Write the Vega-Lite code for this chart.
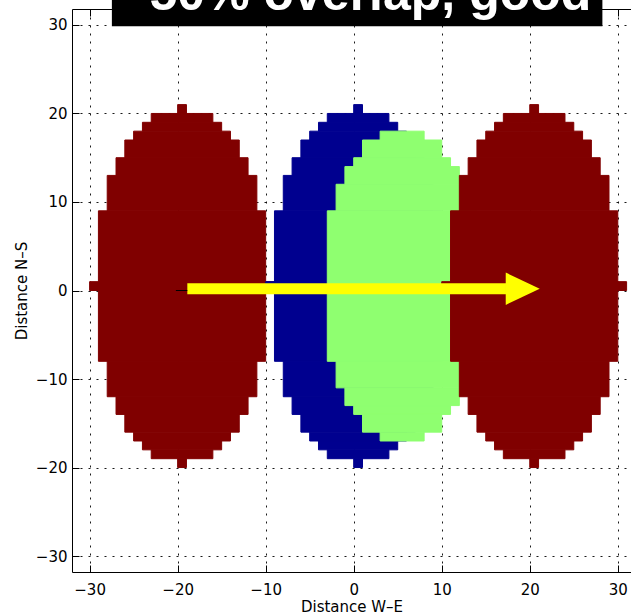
{
  "$schema": "https://vega.github.io/schema/vega-lite/v6.json",
  "autosize": "none",
  "padding": {"left": 72, "top": 9, "right": 0, "bottom": 44},
  "width": 559,
  "height": 563,
  "background": "white",
  "datasets": {
    "cells": [
      {"shape":"redL","x":-20,"x2":-19,"y":20,"y2":21},
      {"shape":"redL","x":-23,"x2":-16,"y":19,"y2":20},
      {"shape":"redL","x":-24,"x2":-15,"y":18,"y2":19},
      {"shape":"redL","x":-25,"x2":-14,"y":17,"y2":18},
      {"shape":"redL","x":-26,"x2":-13,"y":15,"y2":17},
      {"shape":"redL","x":-27,"x2":-12,"y":13,"y2":15},
      {"shape":"redL","x":-28,"x2":-11,"y":9,"y2":13},
      {"shape":"redL","x":-29,"x2":-10,"y":1,"y2":9},
      {"shape":"redL","x":-30,"x2":-9,"y":0,"y2":1},
      {"shape":"redL","x":-29,"x2":-10,"y":-8,"y2":0},
      {"shape":"redL","x":-28,"x2":-11,"y":-12,"y2":-8},
      {"shape":"redL","x":-27,"x2":-12,"y":-14,"y2":-12},
      {"shape":"redL","x":-26,"x2":-13,"y":-16,"y2":-14},
      {"shape":"redL","x":-25,"x2":-14,"y":-17,"y2":-16},
      {"shape":"redL","x":-24,"x2":-15,"y":-18,"y2":-17},
      {"shape":"redL","x":-23,"x2":-16,"y":-19,"y2":-18},
      {"shape":"redL","x":-20,"x2":-19,"y":-20,"y2":-19},
      {"shape":"blue","x":0,"x2":1,"y":20,"y2":21},
      {"shape":"blue","x":-3,"x2":4,"y":19,"y2":20},
      {"shape":"blue","x":-4,"x2":5,"y":18,"y2":19},
      {"shape":"blue","x":-5,"x2":6,"y":17,"y2":18},
      {"shape":"blue","x":-6,"x2":7,"y":15,"y2":17},
      {"shape":"blue","x":-7,"x2":8,"y":13,"y2":15},
      {"shape":"blue","x":-8,"x2":9,"y":9,"y2":13},
      {"shape":"blue","x":-9,"x2":10,"y":1,"y2":9},
      {"shape":"blue","x":-10,"x2":11,"y":0,"y2":1},
      {"shape":"blue","x":-9,"x2":10,"y":-8,"y2":0},
      {"shape":"blue","x":-8,"x2":9,"y":-12,"y2":-8},
      {"shape":"blue","x":-7,"x2":8,"y":-14,"y2":-12},
      {"shape":"blue","x":-6,"x2":7,"y":-16,"y2":-14},
      {"shape":"blue","x":-5,"x2":6,"y":-17,"y2":-16},
      {"shape":"blue","x":-4,"x2":5,"y":-18,"y2":-17},
      {"shape":"blue","x":-3,"x2":4,"y":-19,"y2":-18},
      {"shape":"blue","x":0,"x2":1,"y":-20,"y2":-19},
      {"shape":"green","x":3,"x2":8,"y":17,"y2":18},
      {"shape":"green","x":1,"x2":10,"y":15,"y2":17},
      {"shape":"green","x":0,"x2":11,"y":14,"y2":15},
      {"shape":"green","x":-1,"x2":12,"y":12,"y2":14},
      {"shape":"green","x":-2,"x2":13,"y":9,"y2":12},
      {"shape":"green","x":-3,"x2":14,"y":-8,"y2":9},
      {"shape":"green","x":-2,"x2":13,"y":-11,"y2":-8},
      {"shape":"green","x":-1,"x2":12,"y":-13,"y2":-11},
      {"shape":"green","x":0,"x2":11,"y":-14,"y2":-13},
      {"shape":"green","x":1,"x2":10,"y":-16,"y2":-14},
      {"shape":"green","x":3,"x2":8,"y":-17,"y2":-16},
      {"shape":"redR","x":20,"x2":21,"y":20,"y2":21},
      {"shape":"redR","x":17,"x2":24,"y":19,"y2":20},
      {"shape":"redR","x":16,"x2":25,"y":18,"y2":19},
      {"shape":"redR","x":15,"x2":26,"y":17,"y2":18},
      {"shape":"redR","x":14,"x2":27,"y":15,"y2":17},
      {"shape":"redR","x":13,"x2":28,"y":13,"y2":15},
      {"shape":"redR","x":12,"x2":29,"y":9,"y2":13},
      {"shape":"redR","x":11,"x2":30,"y":1,"y2":9},
      {"shape":"redR","x":10,"x2":31,"y":0,"y2":1},
      {"shape":"redR","x":11,"x2":30,"y":-8,"y2":0},
      {"shape":"redR","x":12,"x2":29,"y":-12,"y2":-8},
      {"shape":"redR","x":13,"x2":28,"y":-14,"y2":-12},
      {"shape":"redR","x":14,"x2":27,"y":-16,"y2":-14},
      {"shape":"redR","x":15,"x2":26,"y":-17,"y2":-16},
      {"shape":"redR","x":16,"x2":25,"y":-18,"y2":-17},
      {"shape":"redR","x":17,"x2":24,"y":-19,"y2":-18},
      {"shape":"redR","x":20,"x2":21,"y":-20,"y2":-19}
    ],
    "arrow": [{"x": -18.9, "x2": 17.3, "y": 0.2, "head": 19.2}],
    "base": [{"x": -20.2, "x2": -18.9, "y": 0}],
    "banner": [{"x": -27.47, "x2": 28.25, "y": 29.86, "y2": 34, "tx": 1.9, "ty": 31.74, "label": "50% overlap, good"}]
  },
  "layer": [
    {
      "data": {"name": "cells"},
      "mark": {"type": "rect", "strokeWidth": 1},
      "encoding": {
        "x": {"field": "x", "type": "quantitative",
              "scale": {"domain": [-32, 31.5], "nice": false, "zero": false},
              "axis": {"orient": "bottom", "values": [-30,-20,-10,0,10,20,30], "grid": true, "title": "Distance W–E", "labelPadding": 17, "titlePadding": 2}},
        "x2": {"field": "x2"},
        "y": {"field": "y", "type": "quantitative",
              "scale": {"domain": [-31.8, 31.8], "nice": false, "zero": false},
              "axis": {"orient": "left", "values": [-30,-20,-10,0,10,20,30], "grid": true, "title": "Distance N–S", "labelPadding": 12, "titlePadding": 6}},
        "y2": {"field": "y2"},
        "color": {"field": "shape", "type": "nominal",
                  "scale": {"domain": ["redL","blue","green","redR"], "range": ["#800000","#00008F","#8FFF70","#800000"]},
                  "legend": null},
        "stroke": {"field": "shape", "type": "nominal",
                  "scale": {"domain": ["redL","blue","green","redR"], "range": ["#800000","#00008F","#8FFF70","#800000"]},
                  "legend": null}
      }
    },
    {
      "data": {"name": "arrow"},
      "mark": {"type": "rule", "color": "#FFFF00", "strokeWidth": 11, "strokeCap": "butt"},
      "encoding": {
        "x": {"field": "x", "type": "quantitative",
              "axis": {"orient": "top", "values": [-30,-20,-10,0,10,20,30], "labels": false, "title": null, "grid": false}},
        "x2": {"field": "x2"},
        "y": {"field": "y", "type": "quantitative", "axis": {"title": "Distance N–S"}}
      }
    },
    {
      "data": {"name": "arrow"},
      "mark": {"type": "point", "filled": true, "opacity": 1, "color": "#FFFF00", "shape": "M-1,-0.95L1,0L-1,0.95Z", "size": 1156, "strokeWidth": 0},
      "encoding": {
        "x": {"field": "head", "type": "quantitative", "axis": null},
        "y": {"field": "y", "type": "quantitative", "axis": {"title": "Distance N–S"}}
      }
    },
    {
      "data": {"name": "base"},
      "mark": {"type": "rule", "color": "#000000", "strokeWidth": 1},
      "encoding": {
        "x": {"field": "x", "type": "quantitative", "axis": null},
        "x2": {"field": "x2"},
        "y": {"field": "y", "type": "quantitative", "axis": {"title": "Distance N–S"}}
      }
    },
    {
      "data": {"name": "banner"},
      "mark": {"type": "rect", "color": "#000000"},
      "encoding": {
        "x": {"field": "x", "type": "quantitative", "axis": null},
        "x2": {"field": "x2"},
        "y": {"field": "y", "type": "quantitative", "axis": {"title": "Distance N–S"}},
        "y2": {"field": "y2"}
      }
    },
    {
      "data": {"name": "banner"},
      "mark": {"type": "text", "color": "#FFFFFF", "font": "Liberation Sans", "fontWeight": "bold", "fontSize": 50, "align": "center", "baseline": "alphabetic"},
      "encoding": {
        "x": {"field": "tx", "type": "quantitative", "axis": null},
        "y": {"field": "ty", "type": "quantitative", "axis": {"title": "Distance N–S"}},
        "text": {"field": "label"}
      }
    }
  ],
  "resolve": {"axis": {"x": "independent"}},
  "config": {
    "view": {"stroke": null},
    "axis": {
      "labelFont": "DejaVu Sans", "labelFontSize": 15, "labelColor": "#000",
      "titleFont": "DejaVu Sans", "titleFontSize": 15, "titleFontWeight": "normal", "titleColor": "#000",
      "domainColor": "#000", "domainWidth": 1, "tickColor": "#000", "tickSize": -7, "tickWidth": 1,
      "gridColor": "#000", "gridDash": [2, 6], "gridOpacity": 0.9, "gridWidth": 1
    }
  }
}
